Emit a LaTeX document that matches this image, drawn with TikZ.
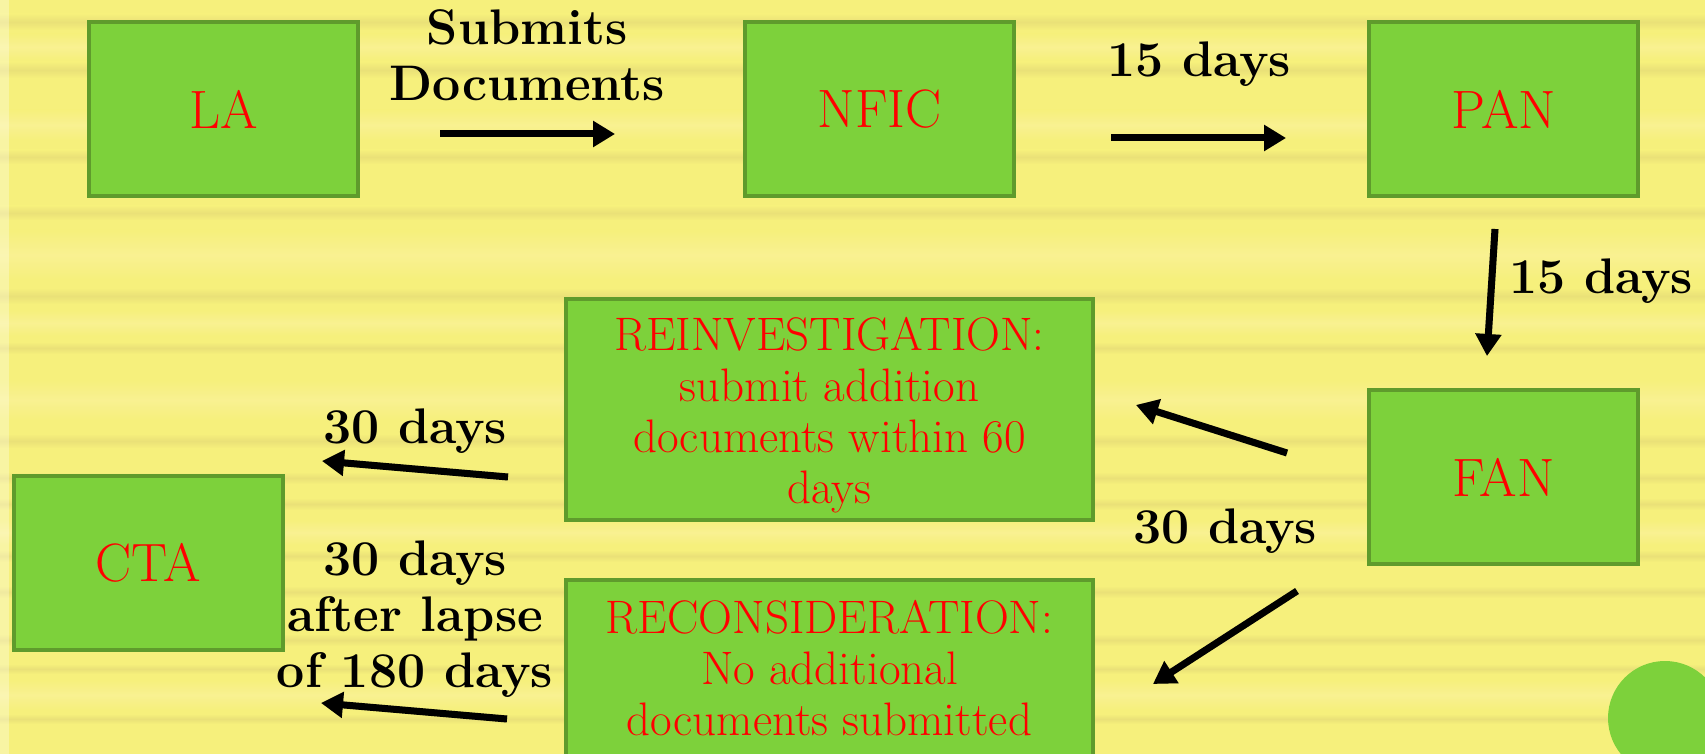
\documentclass[tikz,border=0pt]{standalone}
\usetikzlibrary{arrows.meta}
\definecolor{bg}{HTML}{F6F07C}
\definecolor{streak}{HTML}{DCD074}
\definecolor{light}{HTML}{FBF2A0}
\definecolor{boxfill}{HTML}{7DD13B}
\definecolor{boxedge}{HTML}{5F9B2C}
\begin{document}
\begin{tikzpicture}[x=1pt,y=-1pt,
  stepbox/.style={draw=boxedge, line width=4pt, fill=boxfill, minimum width=269pt, minimum height=174pt, text=red, font=\fontsize{54}{64}\selectfont, inner sep=0pt},
  widebox/.style={stepbox, minimum width=527pt, minimum height=221pt},
  boxtext/.style={text=red, font=\fontsize{47}{51}\selectfont, align=center, inner sep=0pt},
  lbl/.style={font=\fontsize{50}{56}\selectfont\bfseries, align=center, inner sep=0pt},
  arr/.style={line width=7pt, -{Triangle[length=22pt,width=25pt]}},
  shadowarr/.style={arr, draw=black!60!bg, opacity=0.3, shift={(3pt,-4pt)}},
  band/.style={top color=bg, bottom color=bg, middle color=streak, opacity=0.45},
  lband/.style={top color=bg, bottom color=bg, middle color=light, opacity=0.6},
]
\useasboundingbox (0,0) rectangle (1705,754);
\begin{scope}
\clip (0,0) rectangle (1705,754);
% background
\fill[bg] (0,0) rectangle (1705,754);
\foreach \ya/\yb in {34/60, 110/140, 230/280, 310/336, 380/420, 520/545, 680/710}
  \shade[lband] (0,\ya) rectangle (1705,\yb);
\foreach \ya/\yb in {14/30, 62/78, 150/164, 206/220, 288/304, 342/354, 434/448, 472/484, 498/510, 550/562, 586/598, 634/646, 664/674, 714/724}
  \shade[band] (0,\ya) rectangle (1705,\yb);
\fill[white, opacity=0.3] (0,0) rectangle (9,754);

% boxes
\node[stepbox] (la) at (223.5,109) {LA};
\node[stepbox] (nfic) at (879.5,109) {NFIC};
\node[stepbox] (pan) at (1503.5,109) {PAN};
\node[stepbox] (fan) at (1503.5,477) {FAN};
\node[stepbox] (cta) at (148,562.5) {CTA};
\node[widebox] (reinv) at (829.5,409.5) {};
\node[boxtext] (reinvt) at ([yshift=-6pt]reinv.center) {REINVESTIGATION:\\submit addition\\documents within 60\\days};
\node[widebox, minimum height=176pt] (recons) at (829.5,668) {};
\node[boxtext] (reconst) at (recons.center) {RECONSIDERATION:\\No additional\\documents submitted};
\fill[boxfill] (1665,718) circle (57);

% arrow end points
\coordinate (a1s) at (440,134); \coordinate (a1e) at (615,134);
\coordinate (a2s) at (1111,138); \coordinate (a2e) at (1286,138);
\coordinate (a3s) at (1495,229); \coordinate (a3e) at (1487,356);
\coordinate (a4s) at (1287,453); \coordinate (a4e) at (1136,405);
\coordinate (a5s) at (1297,591); \coordinate (a5e) at (1153,684);
\coordinate (a6s) at (508,477); \coordinate (a6e) at (322,461);
\coordinate (a7s) at (507,719); \coordinate (a7e) at (321,703);

\foreach \s/\e in {a1s/a1e, a2s/a2e, a3s/a3e, a4s/a4e, a5s/a5e, a6s/a6e, a7s/a7e}
  \draw[shadowarr] (\s) -- (\e);
\foreach \s/\e in {a1s/a1e, a2s/a2e, a3s/a3e, a4s/a4e, a5s/a5e, a6s/a6e, a7s/a7e}
  \draw[arr] (\s) -- (\e);

% labels
\node[lbl] (l1) at (527,55) {Submits\\Documents};
\node[lbl, anchor=base] (l2) at (1199,77) {15 days};
\node[lbl, anchor=base] (l3) at (1601,293) {15 days};
\node[lbl, anchor=base] (l4) at (1225,543) {30 days};
\node[lbl, anchor=base] (l5) at (415,443) {30 days};
\node[lbl] (l6) at (415,619) {30 days\\after lapse\\of 180 days};
\end{scope}
\end{tikzpicture}
\end{document}
